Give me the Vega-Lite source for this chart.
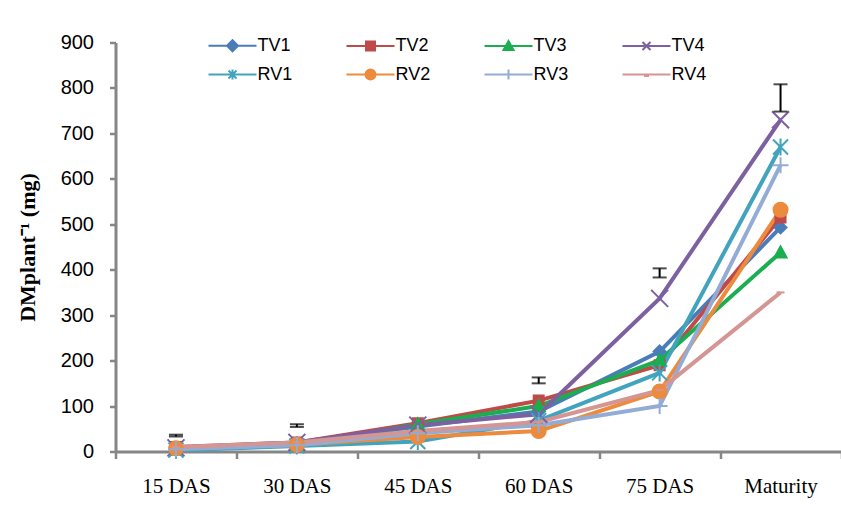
{
  "$schema": "https://vega.github.io/schema/vega-lite/v6.json",
  "width": 725.5,
  "height": 409,
  "autosize": {"type": "none"},
  "padding": {"left": 115.5, "top": 42.5, "right": 0, "bottom": 61.5},
  "background": "white",
  "config": {
    "view": {"stroke": null},
    "axis": {
      "domainColor": "#868686",
      "domainWidth": 3,
      "tickColor": "#868686",
      "tickWidth": 2.5,
      "grid": false,
      "labelColor": "black"
    },
    "legend": {
      "orient": "none",
      "legendX": 90,
      "legendY": -6,
      "columns": 4,
      "padding": 0,
      "labelFont": "Liberation Sans",
      "labelFontSize": 18,
      "labelColor": "black",
      "symbolSize": 100,
      "symbolStrokeWidth": 2,
      "symbolOpacity": 1,
      "symbolOffset": 18,
      "labelOffset": 16,
      "columnPadding": 50,
      "rowPadding": 10,
      "gridAlign": "all"
    }
  },
  "datasets": {
    "growth": [
      {"stage": "15 DAS", "series": "TV1", "dm": 8},
      {"stage": "30 DAS", "series": "TV1", "dm": 18},
      {"stage": "45 DAS", "series": "TV1", "dm": 55},
      {"stage": "60 DAS", "series": "TV1", "dm": 88},
      {"stage": "75  DAS", "series": "TV1", "dm": 220},
      {"stage": "Maturity", "series": "TV1", "dm": 493},
      {"stage": "15 DAS", "series": "TV2", "dm": 10},
      {"stage": "30 DAS", "series": "TV2", "dm": 20},
      {"stage": "45 DAS", "series": "TV2", "dm": 62},
      {"stage": "60 DAS", "series": "TV2", "dm": 112},
      {"stage": "75  DAS", "series": "TV2", "dm": 190},
      {"stage": "Maturity", "series": "TV2", "dm": 515},
      {"stage": "15 DAS", "series": "TV3", "dm": 4},
      {"stage": "30 DAS", "series": "TV3", "dm": 14},
      {"stage": "45 DAS", "series": "TV3", "dm": 60},
      {"stage": "60 DAS", "series": "TV3", "dm": 100},
      {"stage": "75  DAS", "series": "TV3", "dm": 201},
      {"stage": "Maturity", "series": "TV3", "dm": 438},
      {"stage": "15 DAS", "series": "TV4", "dm": 8},
      {"stage": "30 DAS", "series": "TV4", "dm": 20},
      {"stage": "45 DAS", "series": "TV4", "dm": 58},
      {"stage": "60 DAS", "series": "TV4", "dm": 82},
      {"stage": "75  DAS", "series": "TV4", "dm": 337},
      {"stage": "Maturity", "series": "TV4", "dm": 730},
      {"stage": "15 DAS", "series": "RV1", "dm": 3},
      {"stage": "30 DAS", "series": "RV1", "dm": 12},
      {"stage": "45 DAS", "series": "RV1", "dm": 22},
      {"stage": "60 DAS", "series": "RV1", "dm": 68},
      {"stage": "75  DAS", "series": "RV1", "dm": 173},
      {"stage": "Maturity", "series": "RV1", "dm": 670},
      {"stage": "15 DAS", "series": "RV2", "dm": 7},
      {"stage": "30 DAS", "series": "RV2", "dm": 15},
      {"stage": "45 DAS", "series": "RV2", "dm": 32},
      {"stage": "60 DAS", "series": "RV2", "dm": 45},
      {"stage": "75  DAS", "series": "RV2", "dm": 132},
      {"stage": "Maturity", "series": "RV2", "dm": 532},
      {"stage": "15 DAS", "series": "RV3", "dm": 5},
      {"stage": "30 DAS", "series": "RV3", "dm": 14},
      {"stage": "45 DAS", "series": "RV3", "dm": 40},
      {"stage": "60 DAS", "series": "RV3", "dm": 58},
      {"stage": "75  DAS", "series": "RV3", "dm": 100},
      {"stage": "Maturity", "series": "RV3", "dm": 630},
      {"stage": "15 DAS", "series": "RV4", "dm": 10},
      {"stage": "30 DAS", "series": "RV4", "dm": 20},
      {"stage": "45 DAS", "series": "RV4", "dm": 45},
      {"stage": "60 DAS", "series": "RV4", "dm": 65},
      {"stage": "75  DAS", "series": "RV4", "dm": 135},
      {"stage": "Maturity", "series": "RV4", "dm": 350}
    ],
    "err": [
      {"stage": "15 DAS", "low": 33, "high": 37},
      {"stage": "30 DAS", "low": 54, "high": 60},
      {"stage": "60 DAS", "low": 150, "high": 163},
      {"stage": "75  DAS", "low": 383, "high": 403},
      {"stage": "Maturity", "low": 748, "high": 808}
    ]
  },
  "layer": [
    {
      "data": {"name": "growth"},
      "mark": {"type": "line", "strokeWidth": 4},
      "encoding": {
        "x": {
          "field": "stage", "type": "nominal",
          "sort": ["15 DAS", "30 DAS", "45 DAS", "60 DAS", "75  DAS", "Maturity"],
          "scale": {"type": "band", "paddingInner": 0, "paddingOuter": 0},
          "axis": {"title": null, "labelAngle": 0, "tickBand": "extent", "tickSize": 7,
                   "labelFont": "Liberation Serif", "labelFontSize": 21, "labelPadding": 17}
        },
        "y": {
          "field": "dm", "type": "quantitative",
          "scale": {"domain": [0, 900], "nice": false},
          "axis": {"title": "DMplant⁻¹ (mg)", "values": [0, 100, 200, 300, 400, 500, 600, 700, 800, 900],
                   "tickSize": 6, "labelPadding": 16, "labelFont": "Liberation Sans", "labelFontSize": 20,
                   "titleFont": "Liberation Serif", "titleFontSize": 22, "titleFontWeight": "bold",
                   "titleColor": "black", "titlePadding": 21}
        },
        "color": {
          "field": "series", "type": "nominal", "legend": null,
          "scale": {"domain": ["TV1", "TV2", "TV3", "TV4", "RV1", "RV2", "RV3", "RV4"],
                    "range": ["#4a7db8", "#be4b48", "#1aae50", "#7d60a0", "#42a3bc", "#ec8b3e", "#93acd6", "#d59593"]}
        },
        "detail": {"field": "series"}
      }
    },
    {
      "data": {"name": "growth"},
      "mark": {"type": "point", "filled": true, "size": 100, "strokeWidth": 2, "opacity": 1},
      "encoding": {
        "x": {"field": "stage", "type": "nominal", "sort": ["15 DAS", "30 DAS", "45 DAS", "60 DAS", "75  DAS", "Maturity"]},
        "y": {"field": "dm", "type": "quantitative", "title": "DMplant⁻¹ (mg)"},
        "color": {
          "field": "series", "type": "nominal", "legend": null,
          "scale": {"domain": ["TV1", "TV2", "TV3", "TV4", "RV1", "RV2", "RV3", "RV4"],
                    "range": ["#4a7db8", "#be4b48", "#1aae50", "#7d60a0", "#42a3bc", "#ec8b3e", "#93acd6", "#d59593"]}
        },
        "stroke": {
          "field": "series", "type": "nominal", "legend": null,
          "scale": {"domain": ["TV1", "TV2", "TV3", "TV4", "RV1", "RV2", "RV3", "RV4"],
                    "range": ["#4a7db8", "#be4b48", "#1aae50", "#7d60a0", "#42a3bc", "#ec8b3e", "#93acd6", "#d59593"]}
        },
        "shape": {
          "field": "series", "type": "nominal", "legend": null,
          "scale": {"domain": ["TV1", "TV2", "TV3", "TV4", "RV1", "RV2", "RV3", "RV4"],
                    "range": [
                      "M0,-1.2L1.2,0L0,1.2L-1.2,0Z",
                      "M-1,-1L1,-1L1,1L-1,1Z",
                      "M0,-1.2L1.2,1L-1.2,1Z",
                      "M-1.7,-1.7L1.7,1.7M-1.7,1.7L1.7,-1.7",
                      "M-1.5,-1.5L1.5,1.5M-1.5,1.5L1.5,-1.5M0,-1.7L0,1.7",
                      "M1.4,0A1.4,1.4,0,1,1,-1.4,0A1.4,1.4,0,1,1,1.4,0Z",
                      "M-1.6,0L1.6,0M0,-1.6L0,1.6",
                      "M-0.8,0L0.8,0"
                    ]}
        }
      }
    },
    {
      "data": {"name": "growth"},
      "transform": [{"filter": "false"}],
      "mark": {"type": "point", "filled": true, "size": 100, "opacity": 1},
      "encoding": {
        "x": {"field": "stage", "type": "nominal", "sort": ["15 DAS", "30 DAS", "45 DAS", "60 DAS", "75  DAS", "Maturity"]},
        "y": {"field": "dm", "type": "quantitative", "title": "DMplant⁻¹ (mg)"},
        "color": {
          "field": "series", "type": "nominal", "legend": {"title": null},
          "scale": {"domain": ["TV1", "RV1", "TV2", "RV2", "TV3", "RV3", "TV4", "RV4"],
                    "range": ["#4a7db8", "#42a3bc", "#be4b48", "#ec8b3e", "#1aae50", "#93acd6", "#7d60a0", "#d59593"]}
        },
        "stroke": {
          "field": "series", "type": "nominal", "legend": {"title": null},
          "scale": {"domain": ["TV1", "RV1", "TV2", "RV2", "TV3", "RV3", "TV4", "RV4"],
                    "range": ["#4a7db8", "#42a3bc", "#be4b48", "#ec8b3e", "#1aae50", "#93acd6", "#7d60a0", "#d59593"]}
        },
        "shape": {
          "field": "series", "type": "nominal", "legend": {"title": null},
          "scale": {"domain": ["TV1", "RV1", "TV2", "RV2", "TV3", "RV3", "TV4", "RV4"],
                    "range": [
                      "M-4.8,0L4.8,0M0,-1.1L1.1,0L0,1.1L-1.1,0Z",
                      "M-4.8,0L4.8,0M-0.8,-0.8L0.8,0.8M-0.8,0.8L0.8,-0.8M0,-1L0,1",
                      "M-4.8,0L4.8,0M-0.9,-0.9L0.9,-0.9L0.9,0.9L-0.9,0.9Z",
                      "M-4.8,0L4.8,0M1,0A1,1,0,1,1,-1,0A1,1,0,1,1,1,0Z",
                      "M-4.8,0L4.8,0M0,-1L1,0.8L-1,0.8Z",
                      "M-4.8,0L4.8,0M0,-1L0,1",
                      "M-4.8,0L4.8,0M-0.8,-0.8L0.8,0.8M-0.8,0.8L0.8,-0.8",
                      "M-4.8,0L4.8,0M-0.5,0.3L0.5,0.3"
                    ]}
        }
      }
    },
    {
      "data": {"name": "err"},
      "mark": {"type": "errorbar", "ticks": true, "size": 14, "thickness": 2, "color": "black"},
      "encoding": {
        "x": {"field": "stage", "type": "nominal", "sort": ["15 DAS", "30 DAS", "45 DAS", "60 DAS", "75  DAS", "Maturity"]},
        "y": {"field": "low", "type": "quantitative", "title": "DMplant⁻¹ (mg)"},
        "y2": {"field": "high"}
      }
    }
  ],
  "resolve": {"scale": {"shape": "independent", "color": "independent", "stroke": "independent"}}
}
